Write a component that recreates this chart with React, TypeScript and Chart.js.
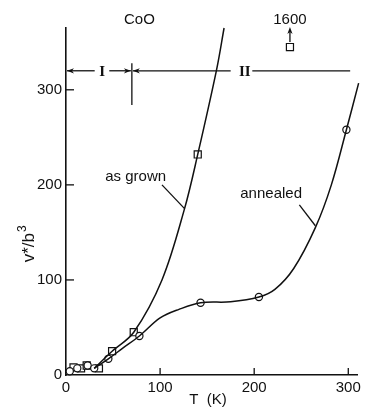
import React, { useEffect, useRef } from "react";
import { Chart, registerables } from "chart.js";

Chart.register(...registerables);

// measured points
const annealedT = [4, 12, 23, 30, 45, 78, 143, 205, 298];
const annealedV = [4, 7, 10, 7, 17, 41, 76, 82, 258];
const grownT = [8, 16, 22, 35, 49, 72, 140];
const grownV = [8, 7, 10, 7, 25, 45, 232];
const offscaleT = [238];
const offscaleV = [345];
const offscaleLabel = "1600";

// drawn curves
const annealedCurveT = [30, 45, 60, 78, 100, 120, 143, 175, 205, 222, 242, 265, 282, 298, 311];
const annealedCurveV = [7, 17, 28, 41, 60, 69, 76, 77, 82, 90, 112, 155, 200, 258, 307];
const grownCurveT = [30, 49, 72, 102, 126, 140, 160, 168];
const grownCurveV = [7, 25, 45, 100, 175, 232, 321, 365];

const xTicks = [0, 100, 200, 300];
const yTicks = [0, 100, 200, 300];

const title = "CoO";
const xTitle = "T  (K)";
const yTitleMain = "v*/b";
const yTitleSup = "3";
const labelGrown = "as grown";
const labelAnnealed = "annealed";
const regionI = "I";
const regionII = "II";
const regionLevel = 320;
const regionBoundary = 70;
const regionEnd = 302;

const FONT = "Liberation Sans, Arial, sans-serif";
const INK = "#111";

const pts = (xs: number[], ys: number[]) => xs.map((x, i) => ({ x, y: ys[i] }));

const annotPlugin = {
  id: "annot",
  afterDraw(chart: any) {
    const { ctx } = chart;
    const xs = chart.scales.x;
    const ys = chart.scales.y;
    const px = (t: number) => xs.getPixelForValue(t);
    const py = (v: number) => ys.getPixelForValue(v);
    const line = (x1: number, y1: number, x2: number, y2: number) => {
      ctx.beginPath();
      ctx.moveTo(x1, y1);
      ctx.lineTo(x2, y2);
      ctx.stroke();
    };
    const arrow = (x: number, y: number, dx: number, dy: number) => {
      const L = 7, W = 2.6;
      const nx = -dy, ny = dx;
      ctx.beginPath();
      ctx.moveTo(x, y);
      ctx.lineTo(x - dx * L + nx * W, y - dy * L + ny * W);
      ctx.lineTo(x - dx * L * 0.7, y - dy * L * 0.7);
      ctx.lineTo(x - dx * L - nx * W, y - dy * L - ny * W);
      ctx.closePath();
      ctx.fill();
    };
    ctx.save();
    ctx.strokeStyle = INK;
    ctx.fillStyle = INK;
    ctx.lineWidth = 1.3;

    // inward ticks
    const x0 = px(0), y0 = py(0);
    xTicks.forEach((t) => { if (t !== 0) line(px(t), y0, px(t), y0 - 7); });
    yTicks.forEach((v) => { if (v !== 0) line(x0, py(v), x0 + 8, py(v)); });

    // region line
    const yr = py(regionLevel);
    const xb = px(regionBoundary);
    line(x0 + 1, yr, px(30.5), yr);
    arrow(x0 + 1, yr, -1, 0);
    line(px(46), yr, xb - 1, yr);
    arrow(xb - 1, yr, 1, 0);
    line(xb, py(328), xb, py(284));
    line(xb + 1, yr, px(175), yr);
    arrow(xb + 1, yr, -1, 0);
    line(px(198), yr, px(regionEnd), yr);

    ctx.font = "bold 15px 'Liberation Serif', serif";
    ctx.textAlign = "center";
    ctx.textBaseline = "middle";
    ctx.fillText(regionI, px(38.5), yr + 1);
    ctx.fillText(regionII, px(190), yr + 1);

    // off-scale arrow and label
    const ox = px(offscaleT[0]);
    line(ox, py(offscaleV[0]) - 5, ox, py(363));
    arrow(ox, py(366), 0, -1);
    ctx.font = `15px ${FONT}`;
    ctx.fillText(offscaleLabel, ox, py(374));

    // title
    ctx.fillText(title, px(78), py(374));

    // curve labels
    ctx.fillText(labelGrown, px(74), py(208));
    line(px(102), py(200), px(126), py(175));
    ctx.fillText(labelAnnealed, px(218), py(191));
    line(px(248), py(179), px(265), py(157));

    // axis titles
    ctx.fillText(xTitle, px(151), 400);
    ctx.save();
    ctx.translate(29, py(138));
    ctx.rotate(-Math.PI / 2);
    ctx.font = `17px ${FONT}`;
    ctx.textAlign = "left";
    const wMain = ctx.measureText(yTitleMain).width;
    ctx.font = `12px ${FONT}`;
    const wSup = ctx.measureText(yTitleSup).width;
    const start = -(wMain + wSup + 1) / 2;
    ctx.font = `17px ${FONT}`;
    ctx.fillText(yTitleMain, start, 0);
    ctx.font = `12px ${FONT}`;
    ctx.fillText(yTitleSup, start + wMain + 1, -6);
    ctx.restore();

    ctx.restore();
  },
};

export default function App() {
  const ref = useRef<HTMLCanvasElement | null>(null);
  useEffect(() => {
    document.body.style.margin = "0";
    const curveStyle = {
      showLine: true,
      pointRadius: 0,
      borderColor: INK,
      borderWidth: 1.5,
      tension: 0.35,
      fill: false,
    };
    const markStyle = {
      showLine: false,
      borderColor: INK,
      backgroundColor: "#fff",
      borderWidth: 1.2,
    };
    const chart = new Chart(ref.current!, {
      type: "scatter",
      data: {
        datasets: [
          { label: "annealed curve", data: pts(annealedCurveT, annealedCurveV), ...curveStyle },
          { label: "as grown curve", data: pts(grownCurveT, grownCurveV), ...curveStyle },
          { label: "annealed", data: pts(annealedT, annealedV), ...markStyle, pointStyle: "circle", pointRadius: 3.6 },
          { label: "as grown", data: pts(grownT, grownV), ...markStyle, pointStyle: "rect", pointRadius: 5 },
          { label: "off scale", data: pts(offscaleT, offscaleV), ...markStyle, pointStyle: "rect", pointRadius: 5 },
        ],
      },
      options: {
        animation: false,
        responsive: true,
        maintainAspectRatio: false,
        clip: false as any,
        layout: { padding: { left: 0, top: 28, right: 3, bottom: 0 } },
        plugins: { legend: { display: false }, tooltip: { enabled: false }, title: { display: false } },
        scales: {
          x: {
            type: "linear",
            min: 0,
            max: 310,
            afterBuildTicks: (s: any) => { s.ticks = xTicks.map((v) => ({ value: v })); },
            afterFit: (s: any) => { s.height = 35; },
            grid: { display: true, drawOnChartArea: false, drawTicks: false },
            border: { display: true, color: INK, width: 1.6 },
            ticks: { color: INK, font: { family: FONT, size: 15 }, padding: 4, maxRotation: 0 },
          },
          y: {
            type: "linear",
            min: 0,
            max: 365,
            afterBuildTicks: (s: any) => { s.ticks = yTicks.map((v) => ({ value: v })); },
            afterFit: (s: any) => { s.width = 66; },
            grid: { display: true, drawOnChartArea: false, drawTicks: false },
            border: { display: true, color: INK, width: 1.6 },
            ticks: { color: INK, font: { family: FONT, size: 15 }, padding: 4 },
          },
        },
      },
      plugins: [annotPlugin],
    });
    return () => chart.destroy();
  }, []);
  return (
    <div style={{ position: "absolute", left: 0, top: 0, width: 365, height: 410, background: "#fff" }}>
      <canvas ref={ref} />
    </div>
  );
}
